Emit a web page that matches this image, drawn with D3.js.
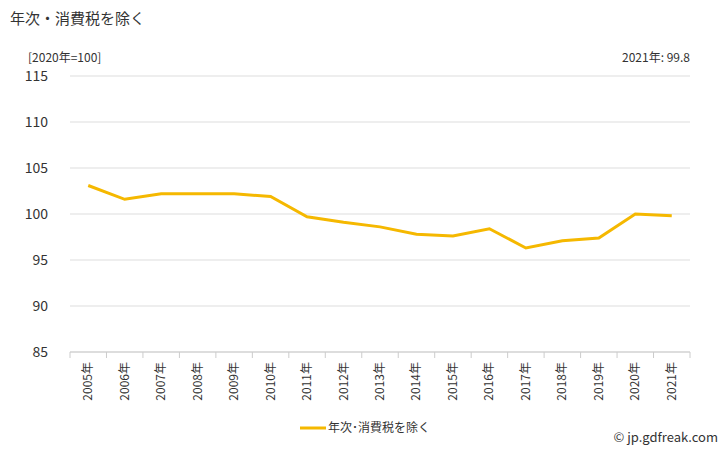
<!DOCTYPE html>
<html><head><meta charset="utf-8">
<script src="https://cdn.jsdelivr.net/npm/d3@7"></script>
<style>body{margin:0;background:#fff;font-family:"Noto Sans CJK JP","Noto Sans",sans-serif;}</style>
</head><body><div id="chart"></div>
<script>
const years = ["2005年","2006年","2007年","2008年","2009年","2010年","2011年","2012年","2013年","2014年","2015年","2016年","2017年","2018年","2019年","2020年","2021年"];
const values = [103.1,101.6,102.2,102.2,102.2,101.9,99.7,99.1,98.6,97.8,97.6,98.4,96.3,97.1,97.4,100.0,99.8];
const yTicks = [85,90,95,100,105,110,115];

const W = 728, H = 450;
const m = {left: 70, right: 38, top: 76, bottom: 98};
const svg = d3.select("#chart").append("svg").attr("width", W).attr("height", H);

const x = d3.scaleBand().domain(years).range([m.left, W - m.right]);
const y = d3.scaleLinear().domain([85, 115]).range([H - m.bottom, m.top]);

svg.append("g").selectAll("line").data(yTicks).enter().append("line")
  .attr("x1", m.left).attr("x2", W - m.right)
  .attr("y1", d => y(d)).attr("y2", d => y(d))
  .attr("stroke", "#ddd");

svg.append("g").selectAll("text").data(yTicks).enter().append("text")
  .attr("x", m.left - 22).attr("y", d => y(d) + 5)
  .attr("text-anchor", "end").attr("font-size", 14).attr("fill", "#333")
  .text(d => d);

// x axis ticks
svg.append("line").attr("x1", m.left).attr("x2", W - m.right)
  .attr("y1", y(85)).attr("y2", y(85)).attr("stroke", "#ccc");
svg.append("g").selectAll("line").data(years.concat([null])).enter().append("line")
  .attr("x1", (d, i) => m.left + i * x.bandwidth()).attr("x2", (d, i) => m.left + i * x.bandwidth())
  .attr("y1", y(85)).attr("y2", y(85) + 6).attr("stroke", "#ccc");

svg.append("g").selectAll("text").data(years).enter().append("text")
  .attr("transform", d => `translate(${x(d) + x.bandwidth() / 2 + 4},${y(85) + 10}) rotate(-90)`)
  .attr("text-anchor", "end").attr("font-size", 12).attr("fill", "#333")
  .text(d => d);

const line = d3.line().x((d, i) => x(years[i]) + x.bandwidth() / 2).y(d => y(d));
svg.append("path").datum(values).attr("d", line)
  .attr("fill", "none").attr("stroke", "#f5b800").attr("stroke-width", 3);

svg.append("text").attr("x", 10).attr("y", 24).attr("font-size", 15).attr("fill", "#333").text("年次・消費税を除く");
svg.append("text").attr("x", 28).attr("y", 62).attr("font-size", 12).attr("fill", "#333").text("[2020年=100]");
svg.append("text").attr("x", 690).attr("y", 62).attr("text-anchor", "end").attr("font-size", 12).attr("fill", "#333").text("2021年: 99.8");

svg.append("line").attr("x1", 300).attr("x2", 326).attr("y1", 428).attr("y2", 428)
  .attr("stroke", "#f5b800").attr("stroke-width", 3);
svg.append("text").attr("x", 328).attr("y", 432).attr("font-size", 12).attr("fill", "#333").text("年次･消費税を除く");
svg.append("text").attr("x", 718).attr("y", 442).attr("text-anchor", "end").attr("font-size", 13).attr("fill", "#333").text("© jp.gdfreak.com");
</script></body></html>
